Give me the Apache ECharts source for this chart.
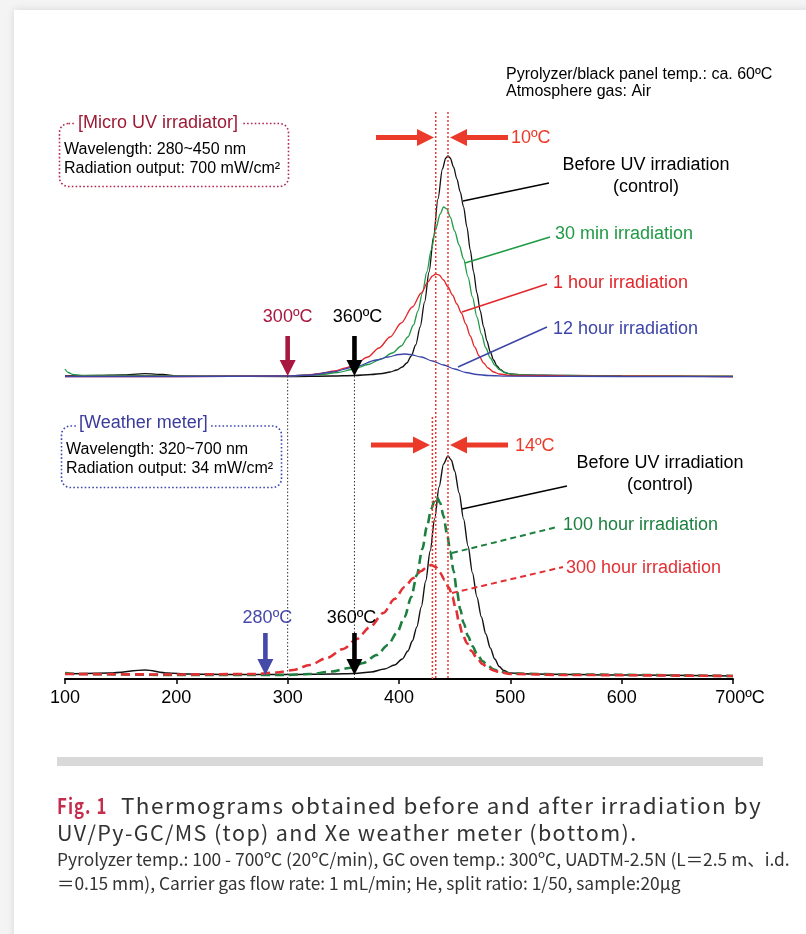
<!DOCTYPE html>
<html><head><meta charset="utf-8">
<script src="https://cdn.jsdelivr.net/npm/echarts@6/dist/echarts.min.js"></script>
<style>html,body{margin:0;padding:0;background:#f4f4f4}#c{width:806px;height:934px}</style>
</head><body><div id="c"></div>
<script>
// ---- data (temperature ºC, signal height) ----
const xTicks = [100, 200, 300, 400, 500, 600, 700];
const topControl = [[100,1],[130,1.5],[150,2],[172,3.3],[188,2.5],[200,1.2],[230,0.6],[300,0.5],[340,1],[360,1.5],[375,2.5],[385,3.5],[392,5],[398,7],[403,10],[407,14],[411,21],[415,32],[419,50],[423,75],[427,105],[431,140],[435,178],[439,208],[442,219],[444,221],[446,219],[449,210],[452,198],[455,185],[458,170],[461,150],[464,127],[467,105],[470,84],[473,66],[476,50],[479,36],[482,25],[485,17],[488,11],[491,7.5],[495,4.5],[500,3],[510,2],[550,1.5],[600,1],[650,0.8],[700,0.5]];
const top30min = [[100,8],[103,4.5],[107,2.5],[115,1.5],[150,1.5],[200,1.2],[250,1],[300,1],[330,2.5],[345,4.5],[360,8],[372,12.5],[384,18],[394,24],[402,31],[408,40],[413,52],[417,66],[421,84],[425,105],[429,127],[433,148],[437,163],[440,170],[443,168],[446,160],[450,146],[454,132],[458,118],[462,100],[466,80],[470,60],[474,43],[478,29],[482,19],[486,12],[490,7.5],[495,4.5],[500,3],[510,2],[530,1.5],[600,1],[700,0.8]];
const top1hour = [[100,0.5],[200,0.5],[300,1],[315,1.8],[330,3.5],[342,6],[352,9],[362,14],[372,20],[382,29],[392,40],[402,54],[412,70],[420,84],[426,95],[430,101],[433,103],[436,102],[440,97],[444,90],[448,82],[452,73],[456,64],[460,53],[464,41],[468,30],[472,21],[476,14],[480,9],[485,5],[490,3],[500,1.5],[550,1],[700,0.5]];
const top12hour = [[100,0.5],[200,0.5],[300,1],[320,2],[340,5],[360,10],[380,17],[390,20],[400,22.5],[405,23],[410,22.5],[420,20],[430,16],[440,12],[450,8],[460,4.5],[470,2.5],[480,1.5],[500,0.8],[600,0.5],[700,0.3]];
const botControl = [[100,5],[140,6],[172,9],[192,6],[210,5],[250,4.5],[300,4.5],[340,5],[360,5.5],[375,7],[387,10],[396,14],[403,20],[408,28],[412,38],[416,52],[420,72],[424,98],[428,128],[432,160],[436,192],[440,215],[444,223],[447,219],[450,208],[454,186],[458,160],[462,133],[466,106],[470,82],[474,62],[478,45],[482,31],[486,20],[490,12.5],[494,8.5],[500,6],[520,5],[600,4],[700,3]];
const bot100hour = [[100,6],[110,5],[200,4],[300,4],[320,5],[340,7.5],[355,11],[368,16],[380,24],[390,34],[398,46],[405,62],[411,82],[416,104],[421,130],[425,152],[429,170],[432,179],[434,182],[437,176],[440,163],[443,146],[446,128],[449,108],[452,88],[455,70],[458,56],[462,43],[466,33],[470,25],[475,18],[480,13],[485,9.5],[490,7.5],[500,5.5],[550,4.5],[700,3]];
const bot300hour = [[100,5],[200,4.5],[270,5],[290,6.5],[305,9],[320,14],[335,21],[350,30],[362,40],[374,52],[386,66],[396,80],[405,92],[413,101],[420,108],[425,112],[429,114],[433,112],[437,106],[441,99],[445,91],[448,82],[451,70],[454,56],[457,45],[461,36],[465,28],[470,21],[475,15],[480,11],[485,8.5],[490,7],[500,5],[550,4],[700,3]];
const topShiftTemps = [433, 444];      // 10 ºC
const botShiftTemps = [430, 433, 444]; // 14 ºC
const onsetTop = [300, 360];
const onsetBot = [280, 360];

const chart = echarts.init(document.getElementById('c'), null, {renderer: 'canvas'});
const AX = 'Liberation Sans, Arial, sans-serif';
function line(name, data, xi, color, width, dashed) {
  return {name, type: 'line', xAxisIndex: xi, yAxisIndex: xi, data, showSymbol: false,
    smooth: 0.3, smoothMonotone: 'x', silent: true, z: 5,
    lineStyle: {color, width, type: dashed ? [9, 5] : 'solid'}};
}
chart.setOption({
  animation: false,
  backgroundColor: '#f4f4f4',
  grid: [
    {left: 65, width: 668, top: 112, height: 283},
    {left: 65, width: 668, top: 405, height: 274}
  ],
  xAxis: [
    {type: 'value', gridIndex: 0, min: 100, max: 700, show: false},
    {type: 'value', gridIndex: 1, min: 100, max: 700, interval: 100,
      axisLine: {lineStyle: {color: '#000', width: 2}},
      axisTick: {length: 5, lineStyle: {color: '#000', width: 1.5}},
      splitLine: {show: false},
      axisLabel: {color: '#000', fontSize: 18, fontFamily: AX, margin: 10,
        formatter: v => v === 700 ? '{b|700ºC}' : String(v),
        rich: {b: {fontSize: 18, fontFamily: AX, color: '#000', padding: [0, 0, 0, 14]}}}}
  ],
  yAxis: [
    {type: 'value', gridIndex: 0, min: -18, max: 265, show: false},
    {type: 'value', gridIndex: 1, min: 0, max: 274, show: false}
  ],
  series: [
    line('Before UV irradiation', topControl, 0, '#111', 1.3),
    line('30 min irradiation', top30min, 0, '#1f9a45', 1.3),
    line('1 hour irradiation', top1hour, 0, '#e3262a', 1.3),
    line('12 hour irradiation', top12hour, 0, '#3d46a8', 1.3),
    line('Before UV irradiation (bottom)', botControl, 1, '#111', 1.4),
    line('100 hour irradiation', bot100hour, 1, '#1d8040', 2.6, true),
    line('300 hour irradiation', bot300hour, 1, '#e23035', 2.6, true)
  ]
});

const px = t => chart.convertToPixel({xAxisIndex: 1}, t);
const g = [];
g.push({type: 'rect', z: -100, silent: true, shape: {x: 14, y: 10, width: 810, height: 940},
  style: {fill: '#fff', shadowBlur: 8, shadowColor: 'rgba(0,0,0,0.12)'}});
function txt(text, x, y, size, color, align, extra) {
  g.push(Object.assign({type: 'text', z: 20, silent: true, x: x, y: y,
    style: {text, x: 0, y: 0, font: size + 'px ' + AX, fill: color, align: align || 'left', verticalAlign: 'middle'}}, extra || {}));
}
function seg(x1, y1, x2, y2, color, w, dash) {
  g.push({type: 'line', z: 15, silent: true, shape: {x1, y1, x2, y2},
    style: {stroke: color, lineWidth: w, lineDash: dash || null}});
}
function hArrow(xTail, xTip, y, color) {
  const dir = xTip > xTail ? 1 : -1, hl = 17, hw = 8.5, sw = 2.6;
  const xb = xTip - dir * hl;
  g.push({type: 'polygon', z: 16, silent: true, shape: {points: [
    [xTail, y - sw], [xb, y - sw], [xb, y - hw], [xTip, y], [xb, y + hw], [xb, y + sw], [xTail, y + sw]]},
    style: {fill: color}});
}
function vArrow(x, yTail, yTip, color) {
  const hl = 16, hw = 8, sw = 2.3, yb = yTip - hl;
  g.push({type: 'polygon', z: 16, silent: true, shape: {points: [
    [x - sw, yTail], [x + sw, yTail], [x + sw, yb], [x + hw, yb], [x, yTip], [x - hw, yb], [x - sw, yb]]},
    style: {fill: color}});
}
seg(px(topShiftTemps[0]), 112, px(topShiftTemps[0]), 679, '#ec3a30', 1.5, [2, 2]);
seg(px(topShiftTemps[1]), 112, px(topShiftTemps[1]), 679, '#ec3a30', 1.5, [2, 2]);
seg(px(botShiftTemps[0]), 417, px(botShiftTemps[0]), 679, '#ec3a30', 1.5, [2, 2]);
seg(px(onsetTop[0]), 376, px(onsetTop[0]), 679, '#333', 1, [1.5, 2]);
seg(px(onsetTop[1]), 376, px(onsetTop[1]), 679, '#333', 1, [1.5, 2]);
hArrow(376, 434, 137.5, '#ec3a2a');
hArrow(508, 450, 137.5, '#ec3a2a');
txt('10ºC', 511, 138, 18, '#ec3a2a');
hArrow(371, 430, 445, '#ec3a2a');
hArrow(508, 450, 445, '#ec3a2a');
txt('14ºC', 515, 446, 18, '#ec3a2a');
vArrow(px(onsetTop[0]), 336, 376, '#a8173f');
txt('300ºC', px(onsetTop[0]), 317, 18, '#a8173f', 'center');
vArrow(px(onsetTop[1]), 336, 376, '#000');
txt('360ºC', px(onsetTop[1]) + 3, 317, 18, '#000', 'center');
vArrow(px(onsetBot[0]), 633, 675, '#4549a8');
txt('280ºC', px(onsetBot[0]) + 2, 618, 18, '#4549a8', 'center');
vArrow(px(onsetBot[1]), 633, 675, '#000');
txt('360ºC', px(onsetBot[1]) - 3, 618, 18, '#000', 'center');
seg(463, 201, 549, 183, '#000', 1.5);
txt('Before UV irradiation', 646, 165, 18, '#000', 'center');
txt('(control)', 646, 187, 18, '#000', 'center');
seg(465, 263, 550, 237, '#1f9a45', 1.5);
txt('30 min irradiation', 555, 234.5, 18, '#1f9a45');
seg(462, 312, 547, 284, '#e3262a', 1.5);
txt('1 hour irradiation', 553, 283.5, 18, '#e3262a');
seg(458, 367, 547, 327, '#3d46a8', 1.5);
txt('12 hour irradiation', 553, 329.5, 18, '#3d46a8');
seg(462, 509, 567, 486, '#000', 1.5);
txt('Before UV irradiation', 660, 463, 18, '#000', 'center');
txt('(control)', 660, 485, 18, '#000', 'center');
seg(452, 553, 557, 527, '#1d8040', 2, [6, 4]);
txt('100 hour irradiation', 563, 525, 18, '#1d8040');
seg(452, 593, 563, 567, '#e23035', 2, [6, 4]);
txt('300 hour irradiation', 566, 568, 18, '#e23035');
txt('Pyrolyzer/black panel temp.: ca. 60ºC', 506, 75, 16, '#000');
txt('Atmosphere gas: Air', 506, 92, 16, '#000');
g.push({type: 'rect', z: 12, silent: true, shape: {x: 59.5, y: 123.5, width: 229, height: 63, r: 9},
  style: {fill: null, stroke: '#b3284e', lineWidth: 1.6, lineDash: [1.6, 2.2]}});
txt('[Micro UV irradiator]', 75, 123, 18, '#9c1b35', 'left', {style: {text: '[Micro UV irradiator]', x: 0, y: 0, font: '18px ' + AX, fill: '#9c1b35', verticalAlign: 'middle', backgroundColor: '#fff', padding: [0, 3]}});
txt('Wavelength: 280~450 nm', 64, 150, 16, '#000');
txt('Radiation output: 700 mW/cm²', 64, 168.5, 16, '#000');
g.push({type: 'rect', z: 12, silent: true, shape: {x: 61.5, y: 426, width: 220, height: 61.5, r: 9},
  style: {fill: null, stroke: '#3d4ab0', lineWidth: 1.6, lineDash: [1.6, 2.2]}});
txt('[Weather meter]', 76, 423.5, 18, '#3b3b9c', 'left', {style: {text: '[Weather meter]', x: 0, y: 0, font: '18px ' + AX, fill: '#3b3b9c', verticalAlign: 'middle', backgroundColor: '#fff', padding: [0, 3]}});
txt('Wavelength: 320~700 nm', 66, 449.5, 16, '#000');
txt('Radiation output: 34 mW/cm²', 66, 468.5, 16, '#000');
g.push({type: 'rect', z: 10, silent: true, shape: {x: 57, y: 757, width: 706, height: 9}, style: {fill: '#d9d9d9'}});
const CJ = '"Noto Sans CJK JP", "Noto Sans", sans-serif';
const spaced = s => s.split('').join('\u200A');
function cap(text, x, y, font, fill, sx) {
  g.push({type: 'text', z: 20, silent: true, x, y, scaleX: sx || 1, style: {text, x: 0, y: 0, font, fill, verticalAlign: 'middle'}});
}
cap(spaced('Fig. 1'), 57, 806, 'bold 21px ' + CJ, '#c42d4b', 0.8);
cap(spaced('Thermograms obtained before and after irradiation by'), 121, 806, '21px ' + CJ, '#333', 1.07);
cap(spaced('UV/Py-GC/MS (top) and Xe weather meter (bottom).'), 57, 833, '21px ' + CJ, '#333', 1.025);
cap('Pyrolyzer temp.: 100 - 700ºC (20ºC/min), GC oven temp.: 300ºC, UADTM-2.5N (L＝2.5 m、i.d.', 57, 859, '17.4px ' + CJ, '#333');
cap('＝0.15 mm), Carrier gas flow rate: 1 mL/min; He, split ratio: 1/50, sample:20μg', 57, 883, '17.4px ' + CJ, '#333');
chart.setOption({graphic: {elements: g}});
</script></body></html>
